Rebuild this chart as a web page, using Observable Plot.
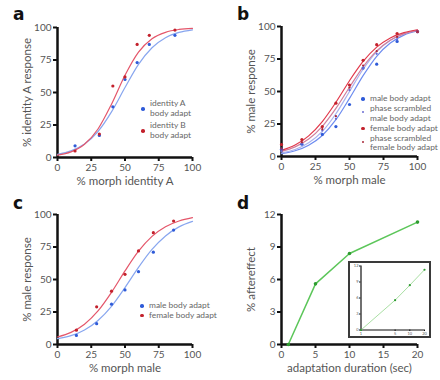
<!DOCTYPE html>
<html>
<head>
<meta charset="utf-8">
<script src="https://cdn.jsdelivr.net/npm/d3@7"></script>
<script src="https://cdn.jsdelivr.net/npm/@observablehq/plot@0.6"></script>
<style>
  html, body { margin: 0; padding: 0; background: #fff; }
  #wrap { position: relative; width: 440px; height: 380px; overflow: hidden; font-family: Lato, "Open Sans", sans-serif; }
  .panel { position: absolute; width: 220px; height: 190px; overflow: hidden; }
  .letter { position: absolute; font: bold 17px "DejaVu Sans", sans-serif; line-height: 17px; color: #111; }
  .legend { position: absolute; font-size: 8.4px; line-height: 9.5px; color: #666; white-space: nowrap; }
  .legend .row { position: relative; padding-left: 9px; }
  .legend .dot { position: absolute; left: 0; top: 3px; width: 3.5px; height: 3.5px; border-radius: 50%; }
  .legend .dot.small { width: 2.2px; height: 2.2px; left: 0.7px; }
  g[aria-label="x-axis label"], g[aria-label="y-axis label"] { font-size: 11.5px; }
  #inset { position: absolute; left: 348px; top: 261px; width: 83px; height: 77px; box-sizing: border-box; border: 2.5px solid #3a3a3a; background: #fff; }
</style>
</head>
<body>
<div id="wrap">
  <div class="panel" id="pa" style="left:0;top:0"></div>
  <div class="panel" id="pb" style="left:220px;top:0"></div>
  <div class="panel" id="pc" style="left:0;top:190px"></div>
  <div class="panel" id="pd" style="left:220px;top:190px"></div>
  <div id="inset"></div>
  <div class="letter" style="left:13px;top:6px">a</div>
  <div class="letter" style="left:237px;top:6px">b</div>
  <div class="letter" style="left:13px;top:195px">c</div>
  <div class="letter" style="left:237px;top:195px">d</div>
</div>
<script>
// ---------- data ----------
const pctTicks = [0, 25, 50, 75, 100];
const fitX = [0, 10, 20, 30, 40, 50, 60, 70, 80, 90, 100];

// panel a
const aMorph = [13, 31, 41, 50, 59, 68, 87];
const aIdentityA = [9, 17, 39, 60, 73, 87, 94];
const aIdentityB = [5, 18, 55, 62, 87, 94, 98];
const aFitA = [2.4, 5.1, 10.4, 20.0, 35.1, 53.8, 71.6, 84.4, 92.1, 96.2, 98.2];
const aFitB = [1.8, 4.3, 10.2, 21.9, 41.0, 63.3, 81.1, 91.4, 96.3, 98.5, 99.4];
const aLegend = ["identity A\nbody adapt", "identity B\nbody adapt"];

// panel b
const bMorph = [0, 15, 30, 40, 50, 60, 70, 85, 100];
const bMale = [5.6, 9.5, 17, 23, 40, 68, 71, 88.5, 96];
const bMaleScr = [4, 10, 20, 29, 51, 68, 79, 90, 96];
const bFemale = [9.2, 13, 23, 41, 55, 74, 86, 94.6, 96];
const bFemaleScr = [6, 11, 21, 31, 53, 70, 81, 92, 96];
const bFitMale = [2.2, 4.4, 8.7, 16.2, 28.3, 44.7, 62.2, 77.1, 87.3, 93.4, 96.6];
const bFitMaleScr = [2.7, 5.4, 10.5, 19.3, 32.9, 50.0, 67.1, 80.7, 89.5, 94.6, 97.3];
const bFitFemaleScr = [3.9, 7.4, 13.4, 23.2, 37.0, 53.3, 69.0, 81.2, 89.4, 94.3, 97.0];
const bFitFemale = [4.7, 8.8, 15.9, 26.9, 41.7, 58.3, 73.1, 84.1, 91.2, 95.3, 97.5];
const bLegend = ["male body adapt", "phase scrambled\nmale body adapt", "female body adapt", "phase scrambled\nfemale body adapt"];

// panel c
const cMorph = [14, 29, 40, 50, 60, 71, 86];
const cMale = [7, 16, 31, 42, 56, 71, 88];
const cFemale = [11, 29, 41, 54, 72, 86, 95];
const cFitMale = [4.5, 6.8, 11.2, 18.5, 29.4, 43.8, 59.3, 73.1, 83.5, 90.5, 94.7];
const cFitFemale = [5.8, 9.3, 15.6, 25.8, 40.1, 56.6, 71.8, 83.2, 90.6, 95.0, 97.6];
const cLegend = ["male body adapt", "female body adapt"];

// panel d
const dDuration = [1, 5, 10, 20];
const dAftereffect = [0, 5.6, 8.4, 11.3];
const dTicksX = [0, 5, 10, 15, 20];
const dTicksY = [0, 3, 6, 9, 12];
const insetTicksX = [1, 5, 10, 20];

// ---------- colours ----------
const BLUE_DOT = "#2f5bd8", RED_DOT = "#c3212c";
const BLUE_FIT = "#88a6ef", RED_FIT = "#e4566a";
const B_MALE_FIT = "#6d8cf0", B_MALESCR_FIT = "#aab2ee", B_FEMSCR_FIT = "#d07f9d", B_FEM_FIT = "#e2394b";
const B_MALESCR_DOT = "#6a6cd2", B_FEMSCR_DOT = "#a8283a";
const GREEN_LINE = "#5cc65a", GREEN_DOT = "#2e9c30", GREEN_LIGHT = "#a9dfa3";

const zip = (xs, ys) => xs.map((x, i) => ({x, y: ys[i]}));

function axes(xTicks, yTicks, xLabel, yLabel, xOff, yOff) {
  return [
    Plot.ruleY([0], {stroke: "#111", strokeWidth: 2.5}),
    Plot.ruleX([0], {stroke: "#111", strokeWidth: 2.5}),
    Plot.axisX({ticks: xTicks, tickSize: 4, strokeWidth: 2, tickPadding: 2, stroke: "#111", fill: "#555",
      label: xLabel, labelAnchor: "center", labelArrow: "none", labelOffset: xOff}),
    Plot.axisY({ticks: yTicks, tickSize: 4, strokeWidth: 2, tickPadding: 2, stroke: "#111", fill: "#555",
      label: yLabel, labelAnchor: "center", labelArrow: "none", labelOffset: yOff})
  ];
}

const style = {fontFamily: "Lato, 'Open Sans', sans-serif", fontSize: "10px", color: "#555", background: "transparent", overflow: "hidden"};

function fit(ys, color) {
  return Plot.line(zip(fitX, ys), {x: "x", y: "y", stroke: color, strokeWidth: 1.2, curve: "monotone-x"});
}
function pts(xs, ys, color, r = 1.6) {
  return Plot.dot(zip(xs, ys), {x: "x", y: "y", fill: color, r});
}

function legend(parentId, left, top, items) {
  const el = document.createElement("div");
  el.className = "legend";
  el.style.left = left + "px";
  el.style.top = top + "px";
  items.forEach(it => {
    const row = document.createElement("div");
    row.className = "row";
    row.style.marginBottom = (it.gap || 0) + "px";
    row.innerHTML = it.label.split("\n").join("<br>");
    const d = document.createElement("span");
    d.className = "dot" + (it.small ? " small" : "");
    d.style.background = it.color;
    d.style.top = (it.dotTop != null ? it.dotTop : 3) + "px";
    row.appendChild(d);
    el.appendChild(row);
  });
  document.getElementById(parentId).appendChild(el);
}

// ---------- panel a ----------
document.getElementById("pa").appendChild(Plot.plot({
  width: 220, height: 190, marginLeft: 57, marginRight: 28, marginTop: 27, marginBottom: 33,
  style,
  x: {domain: [0, 100]}, y: {domain: [0, 100]},
  marks: [
    ...axes(pctTicks, pctTicks, "% morph identity A", "% identity A response", 27, 35),
    fit(aFitA, BLUE_FIT), fit(aFitB, RED_FIT),
    pts(aMorph, aIdentityA, BLUE_DOT), pts(aMorph, aIdentityB, RED_DOT)
  ]
}));
legend("pa", 141, 99, [
  {label: aLegend[0], color: BLUE_DOT, dotTop: 8, gap: 3},
  {label: aLegend[1], color: RED_DOT, dotTop: 8}
]);

// ---------- panel b ----------
document.getElementById("pb").appendChild(Plot.plot({
  width: 220, height: 190, marginLeft: 61, marginRight: 23, marginTop: 26, marginBottom: 34,
  style,
  x: {domain: [0, 100]}, y: {domain: [0, 100]},
  marks: [
    ...axes(pctTicks, pctTicks, "% morph male", "% male response", 27, 35),
    fit(bFitMale, B_MALE_FIT), fit(bFitMaleScr, B_MALESCR_FIT),
    fit(bFitFemaleScr, B_FEMSCR_FIT), fit(bFitFemale, B_FEM_FIT),
    pts(bMorph, bMale, BLUE_DOT), pts(bMorph, bFemale, RED_DOT),
    pts(bMorph, bMaleScr, B_MALESCR_DOT, 1.1), pts(bMorph, bFemaleScr, B_FEMSCR_DOT, 1.1)
  ]
}));
legend("pb", 141, 94, [
  {label: bLegend[0], color: BLUE_DOT, gap: 0.5},
  {label: bLegend[1], color: B_MALESCR_DOT, small: true, dotTop: 7, gap: 0.5},
  {label: bLegend[2], color: RED_DOT, gap: 0.5},
  {label: bLegend[3], color: B_FEMSCR_DOT, small: true, dotTop: 7}
]);

// ---------- panel c ----------
document.getElementById("pc").appendChild(Plot.plot({
  width: 220, height: 190, marginLeft: 57, marginRight: 28, marginTop: 24, marginBottom: 36,
  style,
  x: {domain: [0, 100]}, y: {domain: [0, 100]},
  marks: [
    ...axes(pctTicks, pctTicks, "% morph male", "% male response", 27, 35),
    fit(cFitMale, BLUE_FIT), fit(cFitFemale, RED_FIT),
    pts(cMorph, cMale, BLUE_DOT), pts(cMorph, cFemale, RED_DOT)
  ]
}));
legend("pc", 140, 111, [
  {label: cLegend[0], color: BLUE_DOT},
  {label: cLegend[1], color: RED_DOT}
]);

// ---------- panel d ----------
document.getElementById("pd").appendChild(Plot.plot({
  width: 220, height: 190, marginLeft: 61, marginRight: 23, marginTop: 24, marginBottom: 36,
  style,
  x: {domain: [0, 20]}, y: {domain: [0, 12]},
  marks: [
    ...axes(dTicksX, dTicksY, "adaptation duration (sec)", "% aftereffect", 27, 35),
    Plot.line(zip(dDuration, dAftereffect), {x: "x", y: "y", stroke: GREEN_LINE, strokeWidth: 1.5}),
    pts(dDuration, dAftereffect, GREEN_DOT, 1.8)
  ]
}));

// ---------- inset ----------
document.getElementById("inset").appendChild(Plot.plot({
  width: 78, height: 72, marginLeft: 10.5, marginRight: 4, marginTop: 2.5, marginBottom: 5.5,
  style: {fontFamily: "Lato, sans-serif", fontSize: "4px", color: "#555", background: "transparent", overflow: "visible"},
  x: {type: "log", domain: [1, 20]}, y: {domain: [0, 12]},
  marks: [
    Plot.ruleY([0], {stroke: "#111", strokeWidth: 1.2}),
    Plot.ruleX([1], {stroke: "#111", strokeWidth: 1.2}),
    Plot.axisX({ticks: insetTicksX, tickFormat: d => d, tickSize: 1.5, tickPadding: 0.5, stroke: "#111", fill: "#555", label: null, fontSize: 4}),
    Plot.axisY({ticks: dTicksY, tickSize: 1.5, tickPadding: 1, stroke: "#111", fill: "#555", label: null, fontSize: 4}),
    Plot.line(zip(dDuration, dAftereffect), {x: "x", y: "y", stroke: GREEN_LIGHT, strokeWidth: 1}),
    pts(dDuration, dAftereffect, GREEN_DOT, 1.1)
  ]
}));
</script>
</body>
</html>
